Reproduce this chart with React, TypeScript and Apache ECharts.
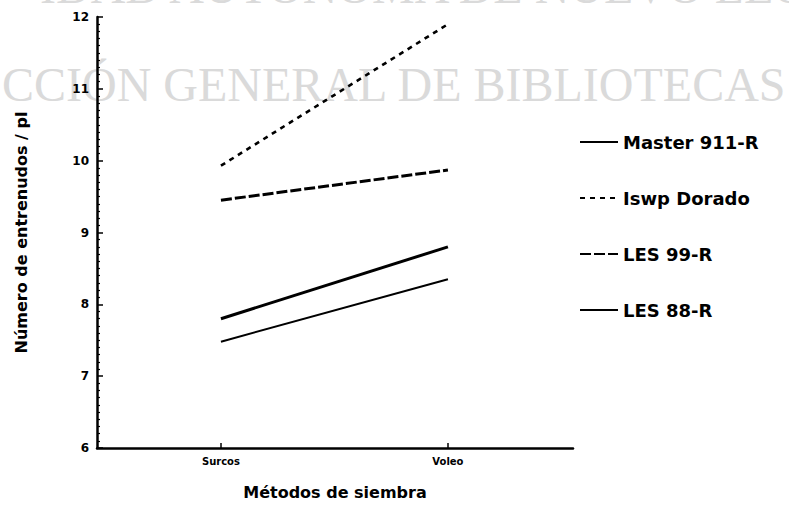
import React, { useEffect, useRef } from "react";
import * as echarts from "echarts";

const methods = ["Surcos", "Voleo"];
const seriesNames = ["Master 911-R", "Iswp Dorado", "LES 99-R", "LES 88-R"];
const master911R = [7.8, 8.8];
const iswpDorado = [9.93, 11.9];
const les99R = [9.45, 9.87];
const les88R = [7.48, 8.35];
const yTicks = [6, 7, 8, 9, 10, 11, 12];

const FONT = "DejaVu Sans";

export default function App() {
  const ref = useRef<HTMLDivElement>(null);
  useEffect(() => {
    if (!ref.current) return;
    const chart = echarts.init(ref.current, undefined, { renderer: "svg" });
    const toPts = (vals: number[]) => vals.map((v, i) => [i, v]);
    const styles = [
      { type: "solid", width: 3 },
      { type: [5, 5], width: 2.6 },
      { type: [11, 3], width: 3 },
      { type: "solid", width: 2 },
    ];
    const values = [master911R, iswpDorado, les99R, les88R];
    chart.setOption({
      animation: false,
      backgroundColor: "#ffffff",
      graphic: [
        {
          type: "text",
          silent: true,
          z: -10,
          x: 40,
          y: -38,
          style: {
            text: "IDAD AUTÓNOMA DE NUEVO LEÓN",
            font: "48px 'Liberation Serif'",
            fill: "#dadada",
          },
        },
        {
          type: "text",
          silent: true,
          z: -10,
          x: 2,
          y: 60,
          style: {
            text: "CCIÓN GENERAL DE BIBLIOTECAS",
            font: "48px 'Liberation Serif'",
            fill: "#dadada",
          },
        },
      ],
      grid: { left: 97, top: 17, width: 476, height: 431 },
      legend: {
        orient: "vertical",
        left: 574,
        top: 128,
        itemWidth: 38,
        itemHeight: 14,
        itemGap: 38,
        itemStyle: { opacity: 0 },
        textStyle: { fontFamily: FONT, fontWeight: "bold", fontSize: 18, color: "#000" },
        data: seriesNames,
      },
      xAxis: {
        type: "value",
        min: -0.546,
        max: 1.551,
        name: "Métodos de siembra",
        nameLocation: "middle",
        nameGap: 36,
        nameTextStyle: { fontFamily: FONT, fontWeight: "bold", fontSize: 16, color: "#000" },
        splitLine: { show: false },
        axisLine: { onZero: false, lineStyle: { color: "#000", width: 2.5 } },
        axisTick: { show: true, inside: true, length: 5, customValues: [0, 1], lineStyle: { color: "#000", width: 1.5 } },
        axisLabel: {
          customValues: [0, 1],
          formatter: (v: number) => methods[Math.round(v)] ?? "",
          fontFamily: FONT,
          fontWeight: "bold",
          fontSize: 10,
          color: "#000",
          margin: 8,
        },
      },
      yAxis: {
        type: "value",
        min: yTicks[0],
        max: yTicks[yTicks.length - 1],
        interval: 1,
        name: "Número de entrenudos / pl",
        nameLocation: "middle",
        nameGap: 68,
        nameTextStyle: { fontFamily: FONT, fontWeight: "bold", fontSize: 16, color: "#000" },
        splitLine: { show: false },
        axisLine: { show: true, onZero: false, lineStyle: { color: "#000", width: 2.5 } },
        axisTick: { show: true, inside: true, length: 6, lineStyle: { color: "#000", width: 1.5 } },
        minorTick: { show: true, splitNumber: 10, length: 3, lineStyle: { color: "#000", width: 1.2 } },
        axisLabel: { fontFamily: FONT, fontWeight: "bold", fontSize: 12, color: "#000", margin: 8 },
      },
      series: seriesNames.map((name, i) => ({
        name,
        type: "line",
        data: toPts(values[i]),
        symbol: "none",
        color: "#000",
        lineStyle: { color: "#000", ...styles[i] },
      })),
    });
    return () => chart.dispose();
  }, []);
  return <div ref={ref} style={{ width: 789, height: 506, position: "absolute", left: 0, top: 0 }} />;
}
